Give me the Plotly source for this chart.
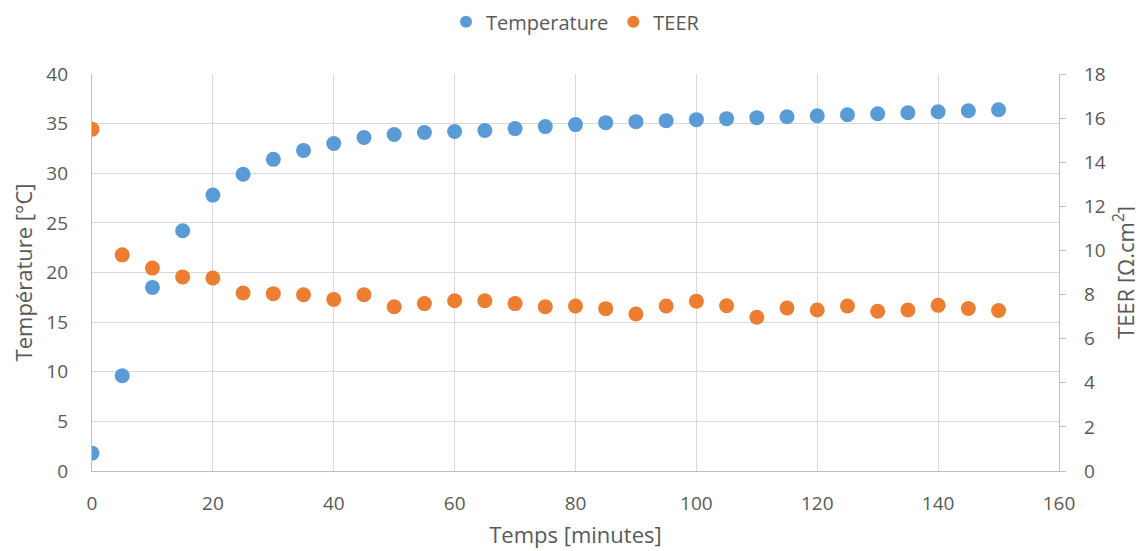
import plotly.graph_objects as go

time_min = [0, 5, 10, 15, 20, 25, 30, 35, 40, 45, 50, 55, 60, 65, 70, 75, 80, 85, 90, 95,
            100, 105, 110, 115, 120, 125, 130, 135, 140, 145, 150]
temperature = [1.8, 9.6, 18.5, 24.2, 27.8, 29.9, 31.4, 32.3, 33.0, 33.6, 33.9, 34.1, 34.2, 34.3,
               34.5, 34.7, 34.9, 35.1, 35.2, 35.3, 35.4, 35.5, 35.6, 35.7, 35.8, 35.9, 36.0,
               36.1, 36.2, 36.3, 36.4]
teer = [15.5, 9.8, 9.2, 8.8, 8.75, 8.07, 8.04, 7.99, 7.78, 7.99, 7.45, 7.59, 7.72, 7.72, 7.59,
        7.45, 7.48, 7.36, 7.12, 7.48, 7.70, 7.49, 6.97, 7.39, 7.30, 7.48, 7.24, 7.30, 7.51,
        7.37, 7.28]

FONT = "Open Sans"
GRAY = "#595959"
CLEAR = "rgba(0,0,0,0)"

fig = go.Figure()
fig.add_trace(go.Scatter(x=time_min, y=temperature, mode="markers", name="Temperature",
                         marker=dict(color="#5B9BD5", size=15), yaxis="y"))
fig.add_trace(go.Scatter(x=time_min, y=teer, mode="markers", name="TEER",
                         marker=dict(color="#ED7D31", size=15), yaxis="y2"))

fig.update_layout(
    width=1143, height=551,
    margin=dict(l=84, r=92, t=66, b=88, autoexpand=False),
    paper_bgcolor="white", plot_bgcolor="white",
    font=dict(family=FONT, size=18, color=GRAY),
    showlegend=True,
    legend=dict(orientation="h", x=0.5, xanchor="center", y=0.975, yanchor="middle",
                yref="container", font=dict(size=20, color=GRAY), itemsizing="constant",
                itemwidth=30, tracegroupgap=0),
    xaxis=dict(range=[0, 160], dtick=20, showgrid=True, gridcolor="#D9D9D9", gridwidth=1.3,
               showline=True, linecolor="#BFBFBF", linewidth=1.3, zeroline=False,
               ticks="outside", ticklen=15, tickcolor=CLEAR, automargin=False,
               title=dict(text="Temps [minutes]", font=dict(size=22, color=GRAY), standoff=12),
               tickfont=dict(size=19, color=GRAY)),
    yaxis=dict(range=[0, 40], dtick=5, showgrid=True, gridcolor="#D9D9D9", gridwidth=1.3,
               showline=True, linecolor="#BFBFBF", linewidth=1.3, zeroline=False,
               ticks="outside", ticklen=19, tickcolor=CLEAR, automargin=False,
               title=dict(text="Température [°C]", font=dict(size=22, color=GRAY), standoff=14),
               tickfont=dict(size=19, color=GRAY)),
    yaxis2=dict(range=[0, 18], dtick=2, overlaying="y", side="right", showgrid=False,
                showline=True, linecolor="#BFBFBF", linewidth=1.3, zeroline=False,
                ticks="outside", ticklen=6, tickcolor="#BFBFBF", automargin=False,
                ticklabelstandoff=14,
                title=dict(text="TEER [Ω.cm<sup>2</sup>]", font=dict(size=22, color=GRAY), standoff=13),
                tickfont=dict(size=19, color=GRAY)),
)

fig.write_html("out.html")
